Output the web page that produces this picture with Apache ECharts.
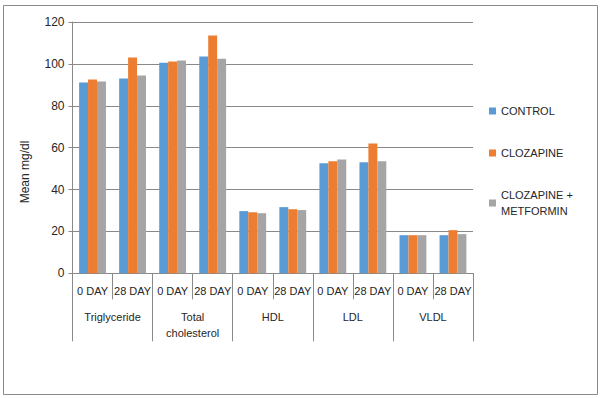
<!DOCTYPE html>
<html>
<head>
<meta charset="utf-8">
<script src="https://cdn.jsdelivr.net/npm/echarts@6/dist/echarts.min.js"></script>
<style>
  html, body { margin: 0; padding: 0; background: #fff; }
  #chart { width: 601px; height: 398px; }
</style>
</head>
<body>
<div id="chart"></div>
<script>
var days = ['0 DAY', '28 DAY', '0 DAY', '28 DAY', '0 DAY', '28 DAY', '0 DAY', '28 DAY', '0 DAY', '28 DAY'];
var groups = ['Triglyceride', 'Total\ncholesterol', 'HDL', 'LDL', 'VLDL'];
var seriesNames = ['CONTROL', 'CLOZAPINE', 'CLOZAPINE +\nMETFORMIN'];
var control = [91.1, 93.0, 100.6, 103.5, 29.7, 31.6, 52.5, 53.0, 18.2, 18.2];
var clozapine = [92.5, 103.0, 101.1, 113.5, 29.2, 30.6, 53.5, 62.0, 18.2, 20.6];
var combo = [91.6, 94.4, 101.6, 102.5, 28.7, 30.2, 54.4, 53.5, 18.2, 18.7];
var yTicks = [0, 20, 40, 60, 80, 100, 120];

(function() {
  var blue = '#5B9BD5', orange = '#ED7D31', gray = '#A5A5A5';
  var ink = '#262626', rule = '#898989';
  var font = '"Liberation Sans", Arial, sans-serif';

  var chart = echarts.init(document.getElementById('chart'), null, { renderer: 'svg' });

  function bar(name, data, color) {
    return {
      name: name, type: 'bar', data: data, xAxisIndex: 0,
      barGap: '0%', barCategoryGap: '33%',
      itemStyle: { color: color }
    };
  }

  chart.setOption({
    animation: false,
    textStyle: { fontFamily: font },
    graphic: [
      { type: 'rect', shape: { x: 3.5, y: 5.5, width: 594, height: 389 },
        style: { fill: 'none', stroke: rule, lineWidth: 1 }, silent: true },
      { type: 'text', x: 25, y: 172, rotation: Math.PI / 2,
        style: { text: 'Mean mg/dl', fill: ink, font: '12px ' + font, align: 'center', verticalAlign: 'middle' } }
    ],
    legend: {
      orient: 'vertical', left: 484, top: 98, itemGap: 26,
      itemWidth: 7, itemHeight: 7, icon: 'rect',
      textStyle: { color: ink, fontSize: 11, lineHeight: 16, fontFamily: font },
      data: seriesNames
    },
    grid: { left: 72.5, right: 128, top: 22, bottom: 124.7 },
    xAxis: [
      {
        type: 'category', position: 'bottom', data: days,
        axisLine: { show: true, lineStyle: { color: rule } },
        axisTick: { show: true, length: 26, interval: 0, lineStyle: { color: rule } },
        axisLabel: { color: ink, fontSize: 11, margin: 10, lineHeight: 16, interval: 0 },
        splitLine: { show: false }
      },
      {
        type: 'category', position: 'bottom', data: groups,
        axisLine: { show: false },
        axisTick: { show: true, length: 68, interval: 0, lineStyle: { color: rule } },
        axisLabel: { color: ink, fontSize: 11, margin: 36, lineHeight: 16, interval: 0, verticalAlign: 'top' },
        splitLine: { show: false }
      }
    ],
    yAxis: {
      type: 'value', min: yTicks[0], max: yTicks[yTicks.length - 1], interval: 20,
      axisLine: { show: true, lineStyle: { color: rule } },
      axisTick: { show: true, length: 4, lineStyle: { color: rule } },
      axisLabel: { color: ink, fontSize: 12, margin: 8 },
      splitLine: { lineStyle: { color: rule } }
    },
    series: [
      bar(seriesNames[0], control, blue),
      bar(seriesNames[1], clozapine, orange),
      bar(seriesNames[2], combo, gray)
    ]
  });
})();
</script>
</body>
</html>
